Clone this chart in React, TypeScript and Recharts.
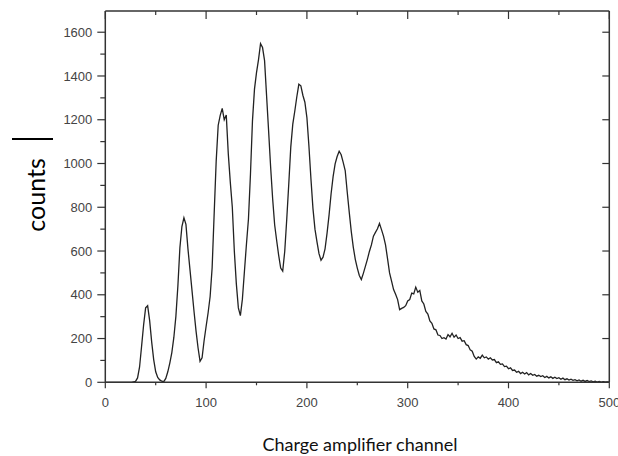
import React from "react";
import { LineChart, Line, XAxis, YAxis } from "recharts";

const channels = [
  0, 10, 20, 26, 28, 30, 32, 34, 36, 38, 40, 42, 44, 46, 48, 50, 52, 54, 56, 58,
  60, 62, 64, 66, 68, 70, 72, 74, 76, 78, 80, 82, 84, 86, 88, 90, 92, 94, 96, 98,
  100, 102, 104, 106, 108, 110, 112, 114, 116, 118, 120, 122, 124, 126, 128, 130, 132, 134, 136, 138,
  140, 142, 144, 146, 148, 150, 152, 154, 156, 158, 160, 162, 164, 166, 168, 170, 172, 174, 176, 178,
  180, 182, 184, 186, 188, 190, 192, 194, 196, 198, 200, 202, 204, 206, 208, 210, 212, 214, 216, 218,
  220, 222, 224, 226, 228, 230, 232, 234, 236, 238, 240, 242, 244, 246, 248, 250, 252, 254, 256, 258,
  260, 262, 264, 266, 268, 270, 272, 274, 276, 278, 280, 282, 284, 286, 288, 290, 292, 294, 296, 298,
  300, 302, 304, 306, 308, 310, 312, 314, 316, 318, 320, 322, 324, 326, 328, 330, 332, 334, 336, 338,
  340, 342, 344, 346, 348, 350, 352, 354, 356, 358, 360, 362, 364, 366, 368, 370, 372, 374, 376, 378,
  380, 382, 384, 386, 388, 390, 392, 394, 396, 398, 400, 402, 404, 406, 408, 410, 412, 414, 416, 418,
  420, 422, 424, 426, 428, 430, 432, 434, 436, 438, 440, 442, 444, 446, 448, 450, 452, 454, 456, 458,
  460, 462, 464, 466, 468, 470, 472, 474, 476, 478, 480, 482, 484, 486, 488, 490, 492, 494, 496, 498,
  500,
];

const counts = [
  0, 0, 0, 0, 2, 4, 20, 70, 165, 262, 340, 350, 282, 185, 104, 48, 22, 11, 5, 3,
  18, 48, 88, 136, 205, 300, 440, 615, 712, 752, 722, 610, 515, 420, 325, 235, 158, 96, 112, 190,
  255, 318, 392, 525, 770, 1010, 1175, 1220, 1252, 1200, 1222, 1045, 915, 800, 600, 450, 340, 305, 380, 505,
  630, 745, 950, 1195, 1340, 1415, 1475, 1548, 1530, 1470, 1310, 1150, 985, 840, 720, 648, 580, 522, 508, 598,
  745, 905, 1075, 1180, 1240, 1305, 1362, 1355, 1312, 1280, 1210, 1080, 930, 795, 700, 642, 588, 558, 572, 610,
  682, 765, 862, 940, 998, 1032, 1056, 1040, 1005, 968, 870, 778, 690, 618, 562, 522, 488, 470, 498, 530,
  562, 598, 628, 668, 685, 702, 726, 698, 668, 628, 565, 500, 462, 424, 402, 378, 332, 338, 342, 350,
  372, 378, 408, 404, 435, 412, 420, 372, 358, 324, 312, 280, 270, 244, 240, 216, 214, 200, 204, 198,
  218, 208, 224, 206, 216, 200, 204, 188, 190, 172, 168, 148, 142, 118, 106, 116, 110, 124, 112, 116,
  106, 112, 102, 104, 90, 94, 82, 84, 72, 74, 62, 66, 54, 56, 46, 50, 40, 46, 38, 44,
  34, 40, 32, 36, 28, 32, 26, 30, 22, 27, 20, 25, 18, 23, 17, 21, 14, 19, 12, 16,
  10, 14, 9, 12, 7, 11, 5, 9, 4, 8, 3, 6, 2, 5, 1, 4, 1, 3, 1, 2,
  1,
];

const xTicks = [0, 50, 100, 150, 200, 250, 300, 350, 400, 450, 500];
const yTicks = [0, 100, 200, 300, 400, 500, 600, 700, 800, 900, 1000, 1100, 1200, 1300, 1400, 1500, 1600];
const yRightTicks = [0, 200, 400, 600, 800, 1000, 1200, 1400, 1600];
const xDomain = [0, 500];
const yDomain = [0, 1697];

const yLabel = "counts";
const xLabel = "Charge amplifier channel";

const data = channels.map((c, i) => ({ ch: c, counts: counts[i] }));

const axisColor = "#333";
const tickFont = {
  fontFamily: "'Liberation Sans', Arial, sans-serif",
  fontSize: 13,
  fill: "#444",
};

function LeftTick(props: any) {
  const { x, y, payload } = props;
  const major = payload.value % 200 === 0;
  const len = major ? 8 : 5;
  return (
    <g>
      <line x1={x - len} x2={x} y1={y} y2={y} stroke={axisColor} strokeWidth={1.2} />
      {major && (
        <text x={x - 13} y={y} dy="0.36em" textAnchor="end" {...tickFont}>
          {payload.value}
        </text>
      )}
    </g>
  );
}

function BottomTick(props: any) {
  const { x, y, payload } = props;
  const major = payload.value % 100 === 0;
  const len = major ? 6 : 3;
  return (
    <g>
      <line x1={x} x2={x} y1={y} y2={y + len} stroke={axisColor} strokeWidth={1.2} />
      {major && (
        <text x={x} y={y + 25} textAnchor="middle" {...tickFont}>
          {payload.value}
        </text>
      )}
    </g>
  );
}

function TopTick(props: any) {
  const { x, y, payload } = props;
  const major = payload.value % 100 === 0;
  const len = major ? 8 : 4;
  return <line x1={x} x2={x} y1={y} y2={y + len} stroke={axisColor} strokeWidth={1.2} />;
}

function RightTick(props: any) {
  const { x, y } = props;
  return <line x1={x - 7} x2={x} y1={y} y2={y} stroke={axisColor} strokeWidth={1.2} />;
}

export default function App() {
  return (
    <div style={{ position: "relative", width: 618, height: 456, background: "#fff" }}>
      <style>{`body{margin:0;background:#fff}`}</style>
      <LineChart
        width={618}
        height={456}
        data={data}
        margin={{ top: 10, right: 7.7, left: 45.3, bottom: 43.7 }}
      >
        <XAxis
          xAxisId="b"
          dataKey="ch"
          type="number"
          domain={xDomain}
          ticks={xTicks}
          interval={0}
          height={30}
          tickLine={false}
          tickSize={0}
          tickMargin={0}
          tick={<BottomTick />}
          axisLine={{ stroke: axisColor, strokeWidth: 1.5 }}
        />
        <XAxis
          xAxisId="t"
          orientation="top"
          dataKey="ch"
          type="number"
          domain={xDomain}
          ticks={xTicks}
          interval={0}
          height={1}
          tickLine={false}
          tickSize={0}
          tickMargin={0}
          tick={<TopTick />}
          axisLine={{ stroke: axisColor, strokeWidth: 1.5 }}
        />
        <YAxis
          yAxisId="l"
          type="number"
          domain={yDomain}
          ticks={yTicks}
          interval={0}
          width={60}
          tickLine={false}
          tickSize={0}
          tickMargin={0}
          tick={<LeftTick />}
          axisLine={{ stroke: axisColor, strokeWidth: 1.5 }}
        />
        <YAxis
          yAxisId="r"
          orientation="right"
          type="number"
          domain={yDomain}
          ticks={yRightTicks}
          interval={0}
          width={1}
          tickLine={false}
          tickSize={0}
          tickMargin={0}
          tick={<RightTick />}
          axisLine={{ stroke: axisColor, strokeWidth: 1.5 }}
        />
        <Line
          xAxisId="b"
          yAxisId="l"
          type="linear"
          dataKey="counts"
          stroke="#222"
          strokeWidth={1.3}
          dot={false}
          isAnimationActive={false}
        />
        <Line
          xAxisId="t"
          yAxisId="r"
          type="linear"
          dataKey="counts"
          stroke="none"
          dot={false}
          activeDot={false}
          isAnimationActive={false}
        />
      </LineChart>
      <svg
        width={618}
        height={456}
        style={{ position: "absolute", left: 0, top: 0, pointerEvents: "none" }}
      >
        <line x1={12} x2={53} y1={139} y2={139} stroke="#000" strokeWidth={2} />
        <text
          transform="translate(45,195) rotate(-90)"
          textAnchor="middle"
          fontFamily="Lato, 'Open Sans', sans-serif"
          fontSize={25}
          fill="#000"
        >
          {yLabel}
        </text>
        <text
          x={360}
          y={451}
          textAnchor="middle"
          fontFamily="Lato, 'Open Sans', sans-serif"
          fontSize={18}
          fill="#111"
        >
          {xLabel}
        </text>
      </svg>
    </div>
  );
}
